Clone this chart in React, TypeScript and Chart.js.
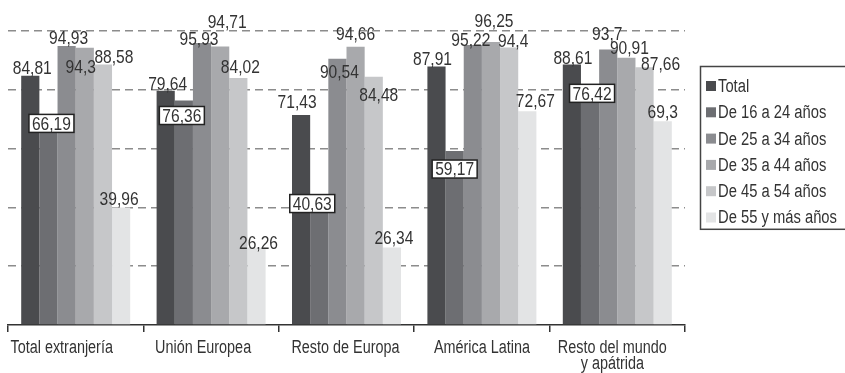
import React, { useEffect, useRef } from "react";
import { Chart, registerables } from "chart.js";

Chart.register(...registerables);

// ---------- data ----------
const categories: (string | string[])[] = [
  "Total extranjería",
  "Unión Europea",
  "Resto de Europa",
  "América Latina",
  ["Resto del mundo", "y apátrida"],
];
const seriesNames = [
  "Total",
  "De 16 a 24 años",
  "De 25 a 34 años",
  "De 35 a 44 años",
  "De 45 a 54 años",
  "De 55 y más años",
];
const total = [84.81, 79.64, 71.43, 87.91, 88.61];
const age16to24 = [66.19, 76.36, 40.63, 59.17, 76.42];
const age25to34 = [94.93, 95.93, 90.54, 95.22, 93.7];
const age35to44 = [94.3, 94.71, 94.66, 96.25, 90.91];
const age45to54 = [88.58, 84.02, 84.48, 94.4, 87.66];
const age55plus = [39.96, 26.26, 26.34, 72.67, 69.3];
const yMin = 0;
const yMax = 100;
const yStep = 20;

// ---------- styles ----------
const colors = ["#4a4b4e", "#6d6e72", "#8b8c90", "#a8a9ac", "#c6c7c9", "#e3e4e5"];
const FONT = '"Liberation Sans", Arial, sans-serif';
const NARROW = 0.82; // horizontal squeeze to mimic a condensed face
const CAT_NARROW = 0.8;
const TEXT = "#333333";
// per-series, per-category label nudges [dx, dy] relative to bar top centre
const labelNudges: number[][][] = [
  [[2, -8], [2, -7], [-4, -13], [-4, -8], [1, -7]],
  [[3, -7], [-2, 15], [-7, -2], [0, 18], [2, -7]],
  [[2, -8], [-3, -4], [2, 13], [-2, -5], [-1, -16]],
  [[-4, 19], [7, -25], [0, -13], [3, -21], [3, -10]],
  [[11, -8], [2, -11], [5, 18], [4, -7], [16, -4]],
  [[-2, -9], [2, -5], [2, -10], [8, -11], [0, -9]],
];
const categoryLabelNudges = [-14, -8, -1, 0, -5];
const boxedSeries = 1;

function narrowText(
  ctx: CanvasRenderingContext2D,
  txt: string,
  x: number,
  y: number,
  align: CanvasTextAlign,
  sx: number = NARROW
) {
  ctx.save();
  ctx.translate(x, y);
  ctx.scale(sx, 1);
  ctx.textAlign = align;
  ctx.fillText(txt, 0, 0);
  ctx.restore();
}

const valueLabels = {
  id: "valueLabels",
  afterDatasetsDraw(chart: any) {
    const ctx = chart.ctx as CanvasRenderingContext2D;
    ctx.save();
    ctx.font = `19px ${FONT}`;
    ctx.textBaseline = "middle";
    chart.data.datasets.forEach((ds: any, i: number) => {
      const meta = chart.getDatasetMeta(i);
      meta.data.forEach((el: any, j: number) => {
        const v = ds.data[j];
        const txt = String(v).replace(".", ",");
        const [dx, dy] = labelNudges[i][j];
        const cx = el.x + dx;
        const cy = el.y + dy;
        if (i === boxedSeries) {
          const w = ctx.measureText(txt).width * NARROW + 6;
          const h = 18;
          ctx.fillStyle = "#ffffff";
          ctx.fillRect(cx - w / 2, cy - h / 2, w, h);
          ctx.strokeStyle = "#222222";
          ctx.lineWidth = 1.5;
          ctx.strokeRect(cx - w / 2, cy - h / 2, w, h);
        }
        ctx.fillStyle = TEXT;
        narrowText(ctx, txt, cx, cy + 1, "center");
      });
    });
    // category labels
    ctx.font = `18px ${FONT}`;
    ctx.textBaseline = "alphabetic";
    ctx.fillStyle = TEXT;
    const xs = chart.scales.x;
    const base = chart.chartArea.bottom + 28;
    (chart.data.labels as any[]).forEach((lab: any, i: number) => {
      const lines = Array.isArray(lab) ? lab : [lab];
      const x = xs.getPixelForValue(i) + categoryLabelNudges[i];
      lines.forEach((ln: string, k: number) => {
        narrowText(ctx, ln, x, base + k * 16, "center", CAT_NARROW);
      });
    });
    ctx.restore();
  },
};

const boxLegend = {
  id: "boxLegend",
  afterDraw(chart: any) {
    const ctx = chart.ctx as CanvasRenderingContext2D;
    const left = chart.chartArea.right + 15;
    const top = 66;
    const rowH = 26.3;
    const n = chart.data.datasets.length;
    ctx.save();
    ctx.strokeStyle = "#444444";
    ctx.lineWidth = 1.5;
    ctx.strokeRect(left + 0.5, top + 0.5, 200, rowH * n + 5);
    ctx.font = `18px ${FONT}`;
    ctx.textBaseline = "middle";
    chart.data.datasets.forEach((ds: any, i: number) => {
      const cy = top + 20 + i * rowH;
      ctx.fillStyle = ds.backgroundColor;
      ctx.fillRect(left + 6, cy - 5, 10, 10);
      ctx.fillStyle = TEXT;
      narrowText(ctx, ds.label, left + 18, cy + 1, "left");
    });
    ctx.restore();
  },
};

export default function App() {
  const ref = useRef<HTMLCanvasElement | null>(null);
  useEffect(() => {
    if (!ref.current) return;
    const series = [total, age16to24, age25to34, age35to44, age45to54, age55plus];
    const chart = new Chart(ref.current, {
      type: "bar",
      data: {
        labels: categories as any,
        datasets: series.map((d, i) => ({
          label: seriesNames[i],
          data: d,
          backgroundColor: colors[i],
          borderWidth: 0,
          categoryPercentage: 0.805,
          barPercentage: 1,
        })),
      },
      options: {
        responsive: false,
        animation: false,
        devicePixelRatio: 1,
        layout: { padding: { left: 8, top: 31, right: 160, bottom: 0 } },
        plugins: { legend: { display: false }, tooltip: { enabled: false } },
        scales: {
          x: {
            grid: {
              offset: true,
              drawOnChartArea: false,
              drawTicks: true,
              tickLength: 7,
              color: "#333333",
              lineWidth: 1.5,
            },
            border: { display: true, color: "#333333", width: 1.5 },
            ticks: {
              font: { family: FONT, size: 17 },
              color: "rgba(0,0,0,0)",
              padding: 3,
              maxRotation: 0,
              autoSkip: false,
            },
            afterFit: (s: any) => {
              s.height = 48;
            },
          },
          y: {
            min: yMin,
            max: yMax,
            ticks: { display: false, stepSize: yStep },
            grid: {
              drawTicks: false,
              color: (c: any) => (c.tick && c.tick.value === 0 ? "rgba(0,0,0,0)" : "#8c8c8c"),
              lineWidth: 1.5,
            },
            border: { display: false, dash: [8, 5] },
            afterFit: (s: any) => {
              s.width = 0;
            },
          },
        },
      },
      plugins: [valueLabels, boxLegend],
    });
    return () => chart.destroy();
  }, []);
  return (
    <div style={{ position: "absolute", left: 0, top: 0, width: 845, height: 373, background: "#fff" }}>
      <canvas ref={ref} width={845} height={373} style={{ display: "block" }} />
    </div>
  );
}
